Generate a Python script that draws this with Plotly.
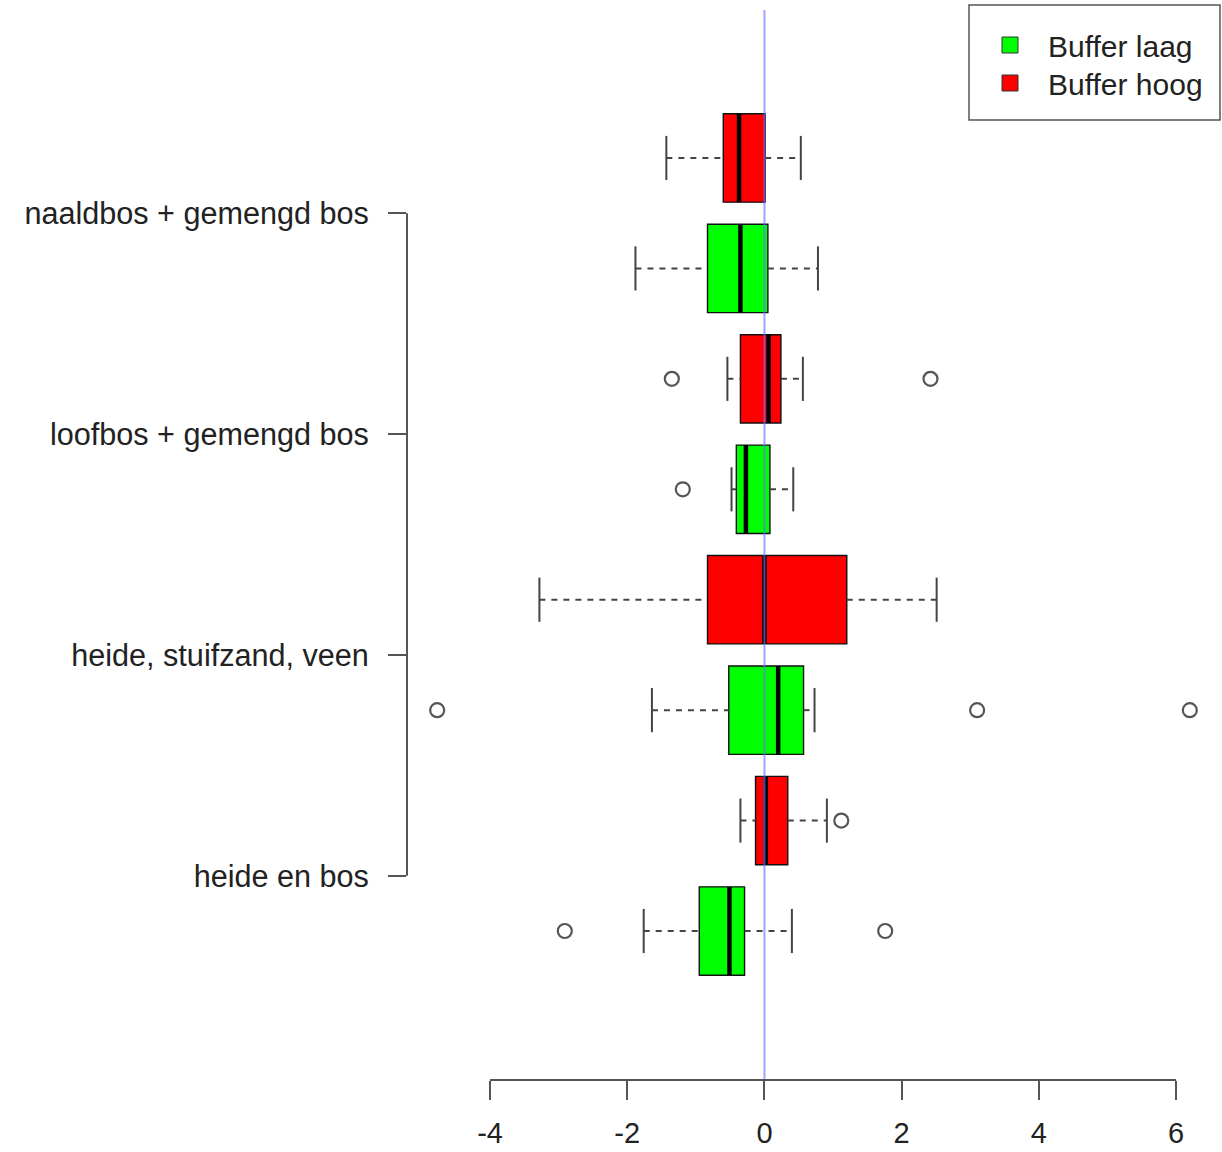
import plotly.graph_objects as go

# ---------------- data ----------------
groups = ["heide en bos", "heide, stuifzand, veen", "loofbos + gemengd bos", "naaldbos + gemengd bos"]
series_names = ["Buffer laag", "Buffer hoog"]

laag_q1 = [-0.95, -0.52, -0.41, -0.83]
laag_med = [-0.51, 0.20, -0.27, -0.35]
laag_q3 = [-0.29, 0.57, 0.08, 0.05]
laag_lw = [-1.76, -1.64, -0.48, -1.88]
laag_uw = [0.40, 0.73, 0.42, 0.78]
laag_out = [[-2.91, 1.76], [-4.77, 3.10, 6.20], [-1.19], []]

hoog_q1 = [-0.13, -0.83, -0.35, -0.60]
hoog_med = [0.02, 0.00, 0.06, -0.37]
hoog_q3 = [0.34, 1.20, 0.24, 0.01]
hoog_lw = [-0.35, -3.28, -0.54, -1.43]
hoog_uw = [0.91, 2.51, 0.56, 0.53]
hoog_out = [[1.12], [], [-1.35, 2.42], []]

x_ticks = [-4, -2, 0, 2, 4, 6]

# ---------------- styling ----------------
FONT = "Liberation Sans, Arial, sans-serif"
TXT = "#222222"
AX = "#555555"
colors = ["#00ff00", "#ff0000"]
BW = 0.8

fig = go.Figure()

series = [
    (laag_q1, laag_med, laag_q3, laag_lw, laag_uw, laag_out, 1),
    (hoog_q1, hoog_med, hoog_q3, hoog_lw, hoog_uw, hoog_out, 2),
]

for k, (q1, med, q3, lw, uw, out, off) in enumerate(series):
    pos = [2 * i + off for i in range(len(groups))]
    # boxes
    fig.add_trace(go.Box(
        y=pos, q1=q1, median=med, q3=q3, lowerfence=q1, upperfence=q3,
        orientation="h", width=BW, whiskerwidth=0,
        fillcolor=colors[k], line=dict(color="#111111", width=1.4),
        showlegend=False, hoverinfo="skip", boxpoints=False,
    ))
    # dashed whiskers
    wx, wy = [], []
    for p, a, b, c, d in zip(pos, lw, q1, q3, uw):
        wx += [a, b, None, c, d, None]
        wy += [p, p, None, p, p, None]
    fig.add_trace(go.Scatter(x=wx, y=wy, mode="lines",
                             line=dict(color="#444444", width=2, dash="6px,6px"),
                             showlegend=False, hoverinfo="skip"))
    # staples
    sx, sy = [], []
    for p, a, d in zip(pos, lw, uw):
        for v in (a, d):
            sx += [v, v, None]
            sy += [p - BW / 4, p + BW / 4, None]
    fig.add_trace(go.Scatter(x=sx, y=sy, mode="lines",
                             line=dict(color="#444444", width=2),
                             showlegend=False, hoverinfo="skip"))
    # medians
    mx, my = [], []
    for p, m in zip(pos, med):
        mx += [m, m, None]
        my += [p - BW / 2, p + BW / 2, None]
    fig.add_trace(go.Scatter(x=mx, y=my, mode="lines",
                             line=dict(color="#000000", width=4.5),
                             showlegend=False, hoverinfo="skip"))
    # outliers
    ox, oy = [], []
    for p, o in zip(pos, out):
        ox += o
        oy += [p] * len(o)
    fig.add_trace(go.Scatter(x=ox, y=oy, mode="markers",
                             marker=dict(symbol="circle-open", size=14, color="#555555",
                                         line=dict(color="#555555", width=2.2)),
                             showlegend=False, hoverinfo="skip"))

# legend entries (one legend per entry so each row can be placed like R's legend)
legend_ids = ["legend", "legend2"]
for k, name in enumerate(series_names):
    fig.add_trace(go.Scatter(x=[None], y=[None], mode="markers", name=name,
                             legend=legend_ids[k],
                             marker=dict(symbol="square", size=19, color=colors[k],
                                         line=dict(color="#333333", width=1))))

fig.add_shape(type="line", xref="x", yref="paper", x0=0, x1=0, y0=0, y1=1,
              line=dict(color="rgba(110,110,255,0.65)", width=2), layer="above")
# R-style axis lines spanning only the tick range
fig.add_shape(type="line", xref="x", yref="paper", x0=x_ticks[0], x1=x_ticks[-1], y0=0, y1=0,
              line=dict(color=AX, width=2))
fig.add_shape(type="line", xref="paper", yref="y", x0=0, x1=0, y0=1.5, y1=2 * len(groups) - 0.5,
              line=dict(color=AX, width=2))
# legend frame
fig.add_shape(type="rect", xref="paper", yref="paper",
              x0=(969 - 407) / 813, x1=(1220 - 407) / 813,
              y0=(1080 - 120) / 1070, y1=(1080 - 5) / 1070,
              line=dict(color=AX, width=1.5), fillcolor="rgba(0,0,0,0)", layer="above")

leg_common = dict(xanchor="left", yanchor="middle", bgcolor="rgba(0,0,0,0)", borderwidth=0,
                  font=dict(size=30, color=TXT), itemwidth=66)

fig.update_layout(
    width=1222, height=1152,
    margin=dict(l=407, r=2, t=10, b=72, autoexpand=False),
    paper_bgcolor="white", plot_bgcolor="white",
    boxmode="overlay",
    font=dict(family=FONT, size=30, color=TXT),
    xaxis=dict(range=[-5.21, 6.64], tickvals=x_ticks, ticktext=[str(v) for v in x_ticks],
               showgrid=False, zeroline=False, showline=False, automargin=False,
               ticks="outside", ticklen=19, tickwidth=2, tickcolor=AX,
               ticklabelstandoff=8,
               tickfont=dict(size=29, color=TXT)),
    yaxis=dict(range=[-0.349, 9.34], tickvals=[2 * i + 1.5 for i in range(len(groups))],
               ticktext=groups, showgrid=False, zeroline=False, showline=False, automargin=False,
               ticks="outside", ticklen=18, tickwidth=2, tickcolor=AX,
               ticklabelstandoff=13,
               tickfont=dict(size=30.6, color=TXT)),
    legend=dict(x=(972 - 407) / 813, y=(1080 - 45) / 1070, **leg_common),
    legend2=dict(x=(972 - 407) / 813, y=(1080 - 83) / 1070, **leg_common),
)

fig.write_html("out.html")
